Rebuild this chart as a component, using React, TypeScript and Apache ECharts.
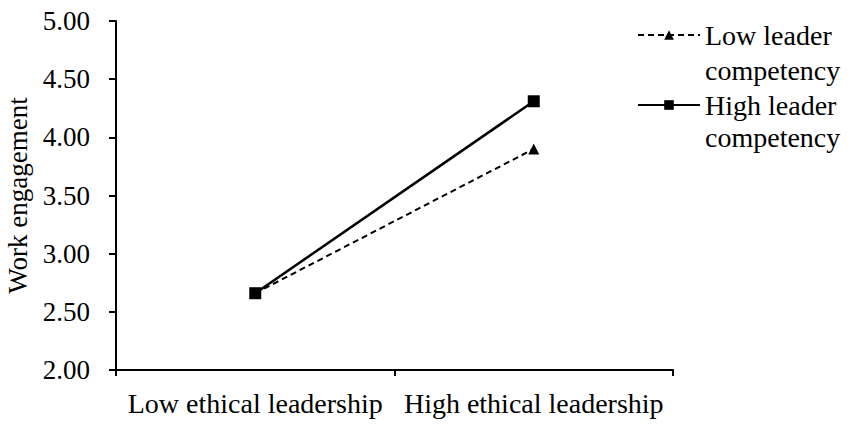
import React, { useEffect, useRef } from "react";
import * as echarts from "echarts";

const categories = ["Low ethical leadership", "High ethical leadership"];
const lowCompetency = [2.66, 3.9];
const highCompetency = [2.66, 4.31];
const seriesNames = ["Low leader", "High leader"];
const legendSecondLine = ["competency", "competency"];

const FONT = "'Liberation Serif', 'Times New Roman', serif";

export default function App() {
  const ref = useRef<HTMLDivElement>(null);
  useEffect(() => {
    if (!ref.current) return;
    const chart = echarts.init(ref.current, undefined, { renderer: "svg" });
    chart.setOption({
      animation: false,
      backgroundColor: "#ffffff",
      grid: { left: 116, right: 178, top: 21, bottom: 57, containLabel: false, outerBoundsMode: "none" },
      legend: {
        orient: "vertical",
        left: 632,
        top: 15,
        itemWidth: 62,
        itemHeight: 12,
        itemGap: 40,
        textStyle: { fontFamily: FONT, fontSize: 28, color: "#000", lineHeight: 30 },
        data: seriesNames,
      },
      graphic: legendSecondLine.map((t, i) => ({
        type: "text",
        left: 705,
        top: 55 + i * 67,
        style: { text: t, fontFamily: FONT, fontSize: 28, lineHeight: 30, fill: "#000" },
      })),
      xAxis: {
        type: "category",
        data: categories,
        boundaryGap: true,
        axisLine: { lineStyle: { color: "#000", width: 2 } },
        axisTick: { show: true, length: 6, lineStyle: { color: "#000", width: 2 } },
        axisLabel: { fontFamily: FONT, fontSize: 28, color: "#000", margin: 19, interval: 0, hideOverlap: false },
        splitLine: { show: false },
      },
      yAxis: {
        type: "value",
        min: 2,
        max: 5,
        interval: 0.5,
        name: "Work engagement",
        nameLocation: "middle",
        nameGap: 84,
        nameTextStyle: { fontFamily: FONT, fontSize: 27, color: "#000" },
        axisLine: { show: true, lineStyle: { color: "#000", width: 2 } },
        axisTick: { show: true, length: 7, lineStyle: { color: "#000", width: 2 } },
        axisLabel: {
          fontFamily: FONT,
          fontSize: 27,
          color: "#000",
          margin: 26,
          formatter: (v: number) => v.toFixed(2),
        },
        splitLine: { show: false },
      },
      series: [
        {
          name: seriesNames[0],
          type: "line",
          data: lowCompetency,
          symbol: "triangle",
          symbolSize: 11,
          lineStyle: { color: "#000", width: 2, type: [6, 4] },
          itemStyle: { color: "#000" },
          z: 2,
        },
        {
          name: seriesNames[1],
          type: "line",
          data: highCompetency,
          symbol: "rect",
          symbolSize: 12,
          lineStyle: { color: "#000", width: 2.5 },
          itemStyle: { color: "#000" },
          z: 3,
        },
      ],
    });
    return () => chart.dispose();
  }, []);
  return <div ref={ref} style={{ width: 851, height: 427, position: "absolute", left: 0, top: 0 }} />;
}
